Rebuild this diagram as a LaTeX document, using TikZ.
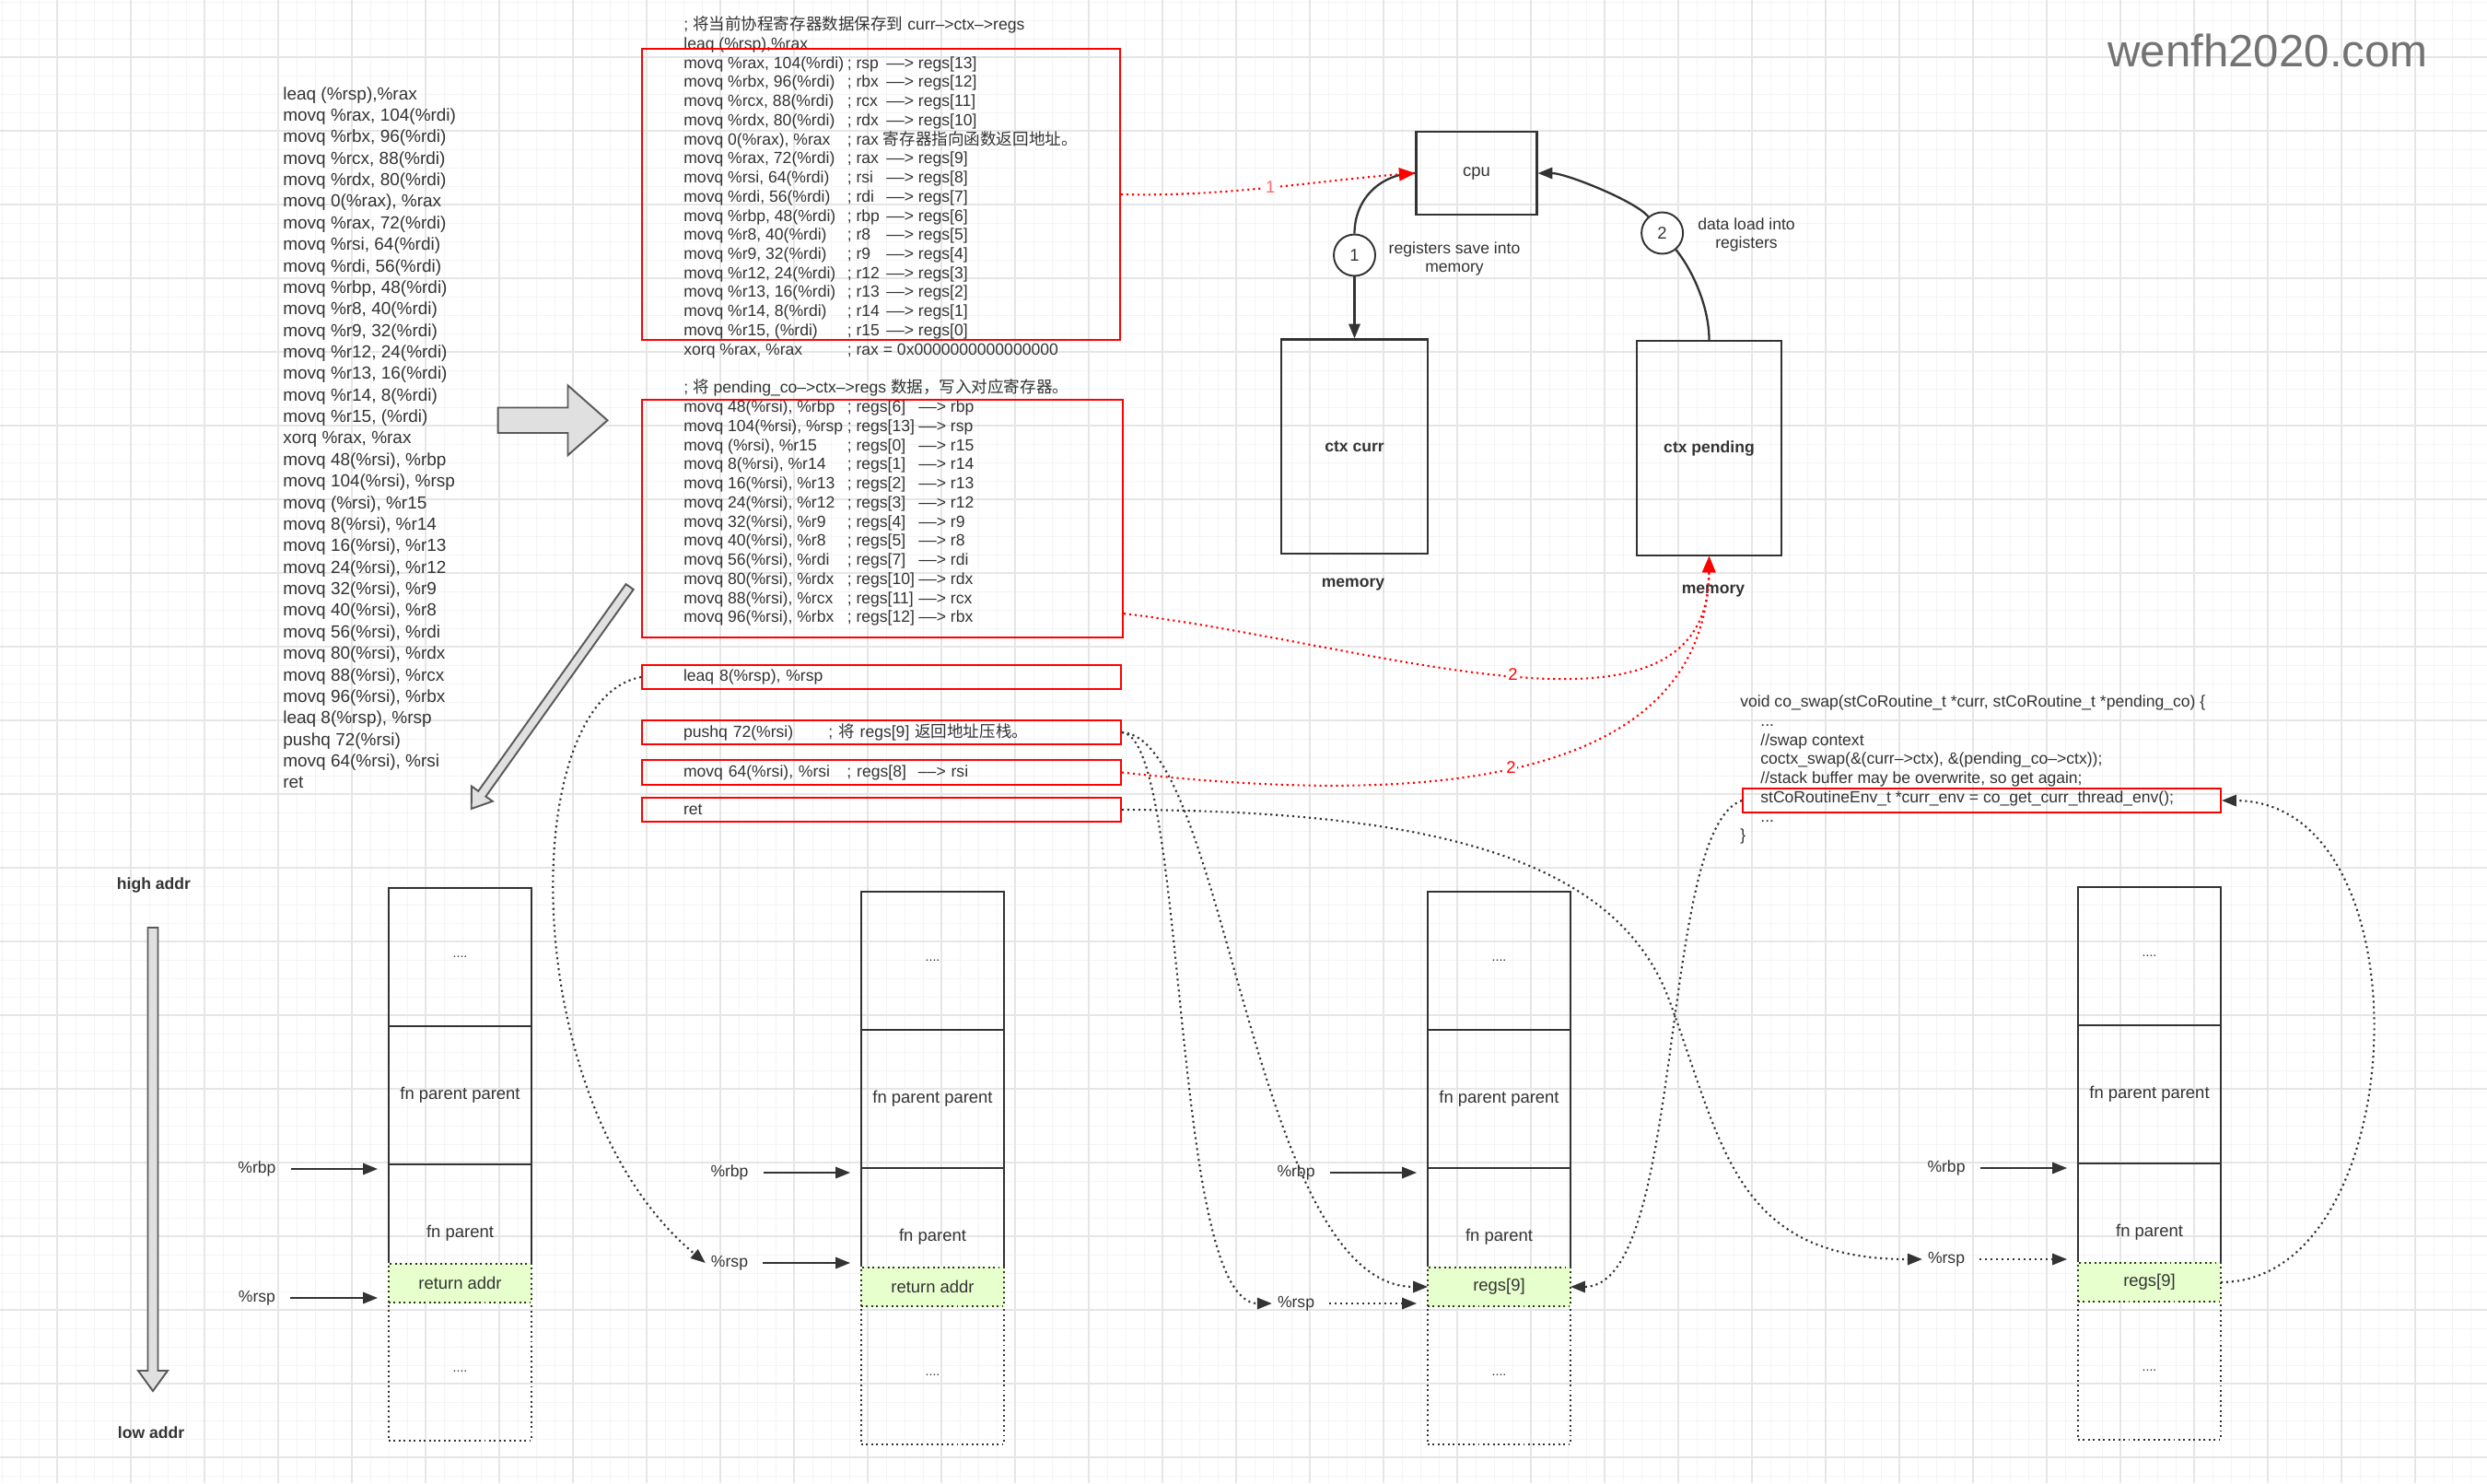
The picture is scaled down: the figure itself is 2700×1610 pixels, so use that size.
\documentclass[tikz,border=0pt]{standalone}
\usepackage{fontspec}
\setmainfont{Liberation Sans}
\newfontfamily\cjk{Noto Sans CJK SC}
\usetikzlibrary{arrows.meta, positioning, calc}

\definecolor{ink}{HTML}{333333}
\definecolor{markred}{HTML}{FF0000}
\definecolor{lightred}{HTML}{FF6666}
\definecolor{cellgreen}{HTML}{E6FFCC}
\definecolor{gridminor}{HTML}{F4F4F4}
\definecolor{gridmajor}{HTML}{E6E6E6}

\newcommand{\regto}{\mbox{--}\mbox{--}>}
\newcommand{\ptrto}{\mbox{--}>}
\newcommand{\asmop}[1]{\makebox[3.55cm][l]{#1}}
\newcommand{\asmnote}[1]{\makebox[0.85cm][l]{#1}}
\newcommand{\asmslot}[1]{\makebox[1.55cm][l]{#1}}

\begin{document}
\begin{tikzpicture}[
			x=0.02cm, y=-0.02cm,
			code/.style={anchor=north west, inner sep=0pt, align=left, text=ink, font=\fontsize{10}{11.8}\selectfont},
			asmlist/.style={code, font=\fontsize{10.8}{13.3}\selectfont},
			redbox/.style={rectangle, draw=markred, line width=1.2pt, inner sep=0pt},
			codebox/.style={redbox, minimum width=10.4cm, minimum height=0.53cm, inner xsep=0.9cm, text width=8.6cm, align=left, text=ink, font=\fontsize{10}{11.8}\selectfont},
			memblock/.style={rectangle, draw=ink, line width=1.2pt, text=ink, font=\fontsize{10.5}{12}\selectfont},
			numcircle/.style={circle, draw=ink, line width=1.1pt, fill=white, minimum size=0.9cm, inner sep=0pt, text=ink, font=\fontsize{10.5}{12}\selectfont},
			tag/.style={text=ink, align=center, font=\fontsize{10}{11.8}\selectfont},
			boldtag/.style={tag, font=\fontsize{10}{11.8}\selectfont\bfseries},
			cell/.style={rectangle, draw=ink, line width=1.1pt, outer sep=0pt, minimum width=3.1cm, minimum height=3cm, text=ink, font=\fontsize{10.5}{12}\selectfont},
			greencell/.style={cell, fill=cellgreen, dash pattern=on 1.1pt off 2pt, minimum height=0.84cm, preaction={draw=cellgreen, solid, line width=1.1pt}},
			opencell/.style={cell, dash pattern=on 1.1pt off 2pt},
			dots/.style={font=\fontsize{8}{9}\selectfont},
			flow/.style={draw=ink, line width=1.3pt},
			ptr/.style={draw=ink, line width=1.1pt, -{Triangle[length=9pt, width=7pt]}, shorten <=0.2cm, shorten >=0.24cm},
			jump/.style={draw=ink, line width=1.2pt, dash pattern=on 1.2pt off 2.2pt, -{Triangle[length=9pt, width=7pt]}},
			load/.style={jump, draw=markred, -{Triangle[length=10pt, width=8pt]}},
			hollow/.style={draw=black!65, line width=1.1pt, fill=black!12, line join=miter},
			steplabel/.style={fill=white, inner sep=1pt, font=\fontsize{10.5}{12}\selectfont}
			]
			
			\useasboundingbox (0,0) rectangle (2700,1610);
			\fill[white] (0,0) rectangle (2700,1610);
			\foreach \g in {2,22,...,2700} \draw[gridminor, line width=0.5pt] (\g,0) -- (\g,1610);
			\foreach \g in {2,22,...,1610} \draw[gridminor, line width=0.5pt] (0,\g) -- (2700,\g);
			\foreach \g in {62,142,...,2700} \draw[gridmajor, line width=0.8pt] (\g,0) -- (\g,1610);
			\foreach \g in {62,142,...,1610} \draw[gridmajor, line width=0.8pt] (0,\g) -- (2700,\g);
			
			\node[text=black!55, font=\fontsize{28}{32}\selectfont] (site) at (2462,55) {wenfh2020.com};
			
			\node[asmlist] (asm) at (307,94) {leaq (\%rsp),\%rax\\ movq \%rax, 104(\%rdi)\\ movq \%rbx, 96(\%rdi)\\ movq \%rcx, 88(\%rdi)\\ movq \%rdx, 80(\%rdi)\\ movq 0(\%rax), \%rax\\ movq \%rax, 72(\%rdi)\\ movq \%rsi, 64(\%rdi)\\ movq \%rdi, 56(\%rdi)\\ movq \%rbp, 48(\%rdi)\\ movq \%r8, 40(\%rdi)\\ movq \%r9, 32(\%rdi)\\ movq \%r12, 24(\%rdi)\\ movq \%r13, 16(\%rdi)\\ movq \%r14, 8(\%rdi)\\ movq \%r15, (\%rdi)\\ xorq \%rax, \%rax\\ movq 48(\%rsi), \%rbp\\ movq 104(\%rsi), \%rsp\\ movq (\%rsi), \%r15\\ movq 8(\%rsi), \%r14\\ movq 16(\%rsi), \%r13\\ movq 24(\%rsi), \%r12\\ movq 32(\%rsi), \%r9\\ movq 40(\%rsi), \%r8\\ movq 56(\%rsi), \%rdi\\ movq 80(\%rsi), \%rdx\\ movq 88(\%rsi), \%rcx\\ movq 96(\%rsi), \%rbx\\ leaq 8(\%rsp), \%rsp\\ pushq 72(\%rsi)\\ movq 64(\%rsi), \%rsi\\ ret};
			
			\node[code] (savecode) at (742,17.5) {; {\cjk 将当前协程寄存器数据保存到} curr\ptrto ctx\ptrto regs\\
				leaq (\%rsp),\%rax\\
				\asmop{movq \%rax, 104(\%rdi)}\asmnote{; rsp}\regto{} regs[13]\\
				\asmop{movq \%rbx, 96(\%rdi)}\asmnote{; rbx}\regto{} regs[12]\\
				\asmop{movq \%rcx, 88(\%rdi)}\asmnote{; rcx}\regto{} regs[11]\\
				\asmop{movq \%rdx, 80(\%rdi)}\asmnote{; rdx}\regto{} regs[10]\\
				\asmop{movq 0(\%rax), \%rax}; rax {\cjk 寄存器指向函数返回地址。}\\
				\asmop{movq \%rax, 72(\%rdi)}\asmnote{; rax}\regto{} regs[9]\\
				\asmop{movq \%rsi, 64(\%rdi)}\asmnote{; rsi}\regto{} regs[8]\\
				\asmop{movq \%rdi, 56(\%rdi)}\asmnote{; rdi}\regto{} regs[7]\\
				\asmop{movq \%rbp, 48(\%rdi)}\asmnote{; rbp}\regto{} regs[6]\\
				\asmop{movq \%r8, 40(\%rdi)}\asmnote{; r8}\regto{} regs[5]\\
				\asmop{movq \%r9, 32(\%rdi)}\asmnote{; r9}\regto{} regs[4]\\
				\asmop{movq \%r12, 24(\%rdi)}\asmnote{; r12}\regto{} regs[3]\\
				\asmop{movq \%r13, 16(\%rdi)}\asmnote{; r13}\regto{} regs[2]\\
				\asmop{movq \%r14, 8(\%rdi)}\asmnote{; r14}\regto{} regs[1]\\
				\asmop{movq \%r15, (\%rdi)}\asmnote{; r15}\regto{} regs[0]\\
				\asmop{xorq \%rax, \%rax}; rax = 0x0000000000000000};
			
			\node[code] (loadcode) at (742,411.7) {; {\cjk 将} pending\_co\ptrto ctx\ptrto regs {\cjk 数据，写入对应寄存器。}\\
				\asmop{movq 48(\%rsi), \%rbp}\asmslot{; regs[6]}\regto{} rbp\\
				\asmop{movq 104(\%rsi), \%rsp}\asmslot{; regs[13]}\regto{} rsp\\
				\asmop{movq (\%rsi), \%r15}\asmslot{; regs[0]}\regto{} r15\\
				\asmop{movq 8(\%rsi), \%r14}\asmslot{; regs[1]}\regto{} r14\\
				\asmop{movq 16(\%rsi), \%r13}\asmslot{; regs[2]}\regto{} r13\\
				\asmop{movq 24(\%rsi), \%r12}\asmslot{; regs[3]}\regto{} r12\\
				\asmop{movq 32(\%rsi), \%r9}\asmslot{; regs[4]}\regto{} r9\\
				\asmop{movq 40(\%rsi), \%r8}\asmslot{; regs[5]}\regto{} r8\\
				\asmop{movq 56(\%rsi), \%rdi}\asmslot{; regs[7]}\regto{} rdi\\
				\asmop{movq 80(\%rsi), \%rdx}\asmslot{; regs[10]}\regto{} rdx\\
				\asmop{movq 88(\%rsi), \%rcx}\asmslot{; regs[11]}\regto{} rcx\\
				\asmop{movq 96(\%rsi), \%rbx}\asmslot{; regs[12]}\regto{} rbx};
			
			\node[redbox, minimum width=10.38cm, minimum height=6.32cm] (savebox) at (956.5,211) {};
			\node[redbox, minimum width=10.44cm, minimum height=5.16cm] (loadbox) at (958,563) {};
			\node[codebox] (ld) at (957,735) {leaq 8(\%rsp), \%rsp};
			\node[codebox] (push) at (957,795) {\makebox[3.15cm][l]{pushq 72(\%rsi)}; {\cjk 将} regs[9] {\cjk 返回地址压栈。}};
			\node[codebox] (mvsi) at (957,838.5) {\asmop{movq 64(\%rsi), \%rsi}\asmslot{; regs[8]}\regto{} rsi};
			\node[codebox] (ret) at (957,879) {ret};
			
			\draw[hollow] (540.7,442.5) -- (616.5,442.5) -- (616.5,418.4) -- (659.5,456.3) -- (616.5,494.2) -- (616.5,470) -- (540.7,470) -- cycle;
			\begin{scope}[shift={(683.6,637)}, rotate=234.5]
				\draw[hollow] (0,-5) -- (276,-5) -- (276,-14) -- (296,0) -- (276,14) -- (276,5) -- (0,5) -- cycle;
			\end{scope}
			
			\node[memblock, minimum width=2.62cm, minimum height=1.79cm] (cpu) at (1603,188) {cpu};
			\node[memblock, minimum width=3.17cm, minimum height=4.65cm, font=\fontsize{10}{12}\selectfont\bfseries] (ctxcurr) at (1470.5,484.7) {ctx curr};
			\node[memblock, minimum width=3.13cm, minimum height=4.65cm, font=\fontsize{10}{12}\selectfont\bfseries] (pending) at (1855.5,486.5) {ctx pending};
			\node[boldtag] (memcurr) at (1469,635) {memory};
			\node[boldtag] (mempend) at (1860,642) {memory};
			\node[numcircle] (one) at (1470.5,277) {1};
			\node[numcircle] (two) at (1804.6,253) {2};
			\node[tag] (savenote) at (1579,281) {registers save into\\memory};
			\node[tag] (loadnote) at (1896,255) {data load into\\registers};
			
			\draw[flow] (cpu.west) .. controls (1500,188) and (1470.5,215) .. (one);
			\draw[flow, -{Triangle[length=9pt, width=7pt]}] (one) -- (ctxcurr);
			\draw[flow] (pending.north) .. controls (1855.5,330) and (1835,290) .. (two);
			\draw[flow, -{Triangle[length=9pt, width=7pt]}] (two) .. controls (1775,218) and (1700,188) .. (cpu.east);
			
			\node[code] (coswap) at (1889,754.7) {void co\_swap(stCoRoutine\_t *curr, stCoRoutine\_t *pending\_co) \{\\
				\hspace*{0.44cm}...\\
				\hspace*{0.44cm}//swap context\\
				\hspace*{0.44cm}coctx\_swap(\&(curr\ptrto ctx), \&(pending\_co\ptrto ctx));\\
				\hspace*{0.44cm}//stack buffer may be overwrite, so get again;\\
				\hspace*{0.44cm}stCoRoutineEnv\_t *curr\_env = co\_get\_curr\_thread\_env();\\
				\hspace*{0.44cm}...\\
				\}};
			\node[redbox, minimum width=10.38cm, minimum height=0.52cm] (envbox) at (2151.5,869) {};
			
			\node[boldtag] (high) at (167,961) {high addr};
			\node[boldtag] (low) at (164,1555) {low addr};
			\draw[hollow] (160.5,1007) -- (171.5,1007) -- (171.5,1488) -- (182,1488) -- (166,1510) -- (150,1488) -- (160.5,1488) -- cycle;
			
			\node[cell, dots] (a1) at (499.5,1039) {....};
			\node[cell] (a2) [below=0pt of a1] {fn parent parent};
			\node[cell] (a3) [below=0pt of a2] {fn parent};
			\node[opencell, dots] (a5) [below=0pt of a3] {....};
			\node[greencell] (a4) [above=0pt of a5] {return addr};
			
			\node[cell, dots] (b1) at (1012.5,1043) {....};
			\node[cell] (b2) [below=0pt of b1] {fn parent parent};
			\node[cell] (b3) [below=0pt of b2] {fn parent};
			\node[opencell, dots] (b5) [below=0pt of b3] {....};
			\node[greencell] (b4) [above=0pt of b5] {return addr};
			
			\node[cell, dots] (c1) at (1627.5,1043) {....};
			\node[cell] (c2) [below=0pt of c1] {fn parent parent};
			\node[cell] (c3) [below=0pt of c2] {fn parent};
			\node[opencell, dots] (c5) [below=0pt of c3] {....};
			\node[greencell] (c4) [above=0pt of c5] {regs[9]};
			
			\node[cell, dots] (d1) at (2333.5,1038) {....};
			\node[cell] (d2) [below=0pt of d1] {fn parent parent};
			\node[cell] (d3) [below=0pt of d2] {fn parent};
			\node[opencell, dots] (d5) [below=0pt of d3] {....};
			\node[greencell] (d4) [above=0pt of d5] {regs[9]};
			
			\node[tag] (rbpa) at (279,1269) {\%rbp};
			\node[tag] (rspa) at (279,1409) {\%rsp};
			\node[tag] (rbpb) at (792,1273) {\%rbp};
			\node[tag] (rspb) at (792,1371) {\%rsp};
			\node[tag] (rbpc) at (1407,1273) {\%rbp};
			\node[tag] (rspc) at (1407,1415) {\%rsp};
			\node[tag] (rbpd) at (2113,1268) {\%rbp};
			\node[tag] (rspd) at (2113,1367) {\%rsp};
			
			\draw[ptr] (rbpa) -- (rbpa -| a3.west);
			\draw[ptr] (rspa) -- (rspa -| a5.west);
			\draw[ptr] (rbpb) -- (rbpb -| b3.west);
			\draw[ptr] (rspb) -- (rspb -| b5.west);
			\draw[ptr] (rbpc) -- (rbpc -| c3.west);
			\draw[ptr, dash pattern=on 1.2pt off 2.2pt] (rspc) -- (rspc -| c5.west);
			\draw[ptr] (rbpd) -- (rbpd -| d3.west);
			\draw[ptr, dash pattern=on 1.2pt off 2.2pt] (rspd) -- (rspd -| d5.west);
			
			\draw[load] (savebox.east) .. controls (1330,214) and (1430,196) .. (cpu.west) node[pos=0.5, steplabel, text=lightred] {1};
			\draw[load] ($(loadbox.south east)+(0,-27)$) .. controls (1500,700) and (1855,830) .. (pending.south) node[pos=0.5, steplabel, text=markred] {2};
			\draw[load] (mvsi.east) .. controls (1500,870) and (1850,870) .. (pending.south) node[pos=0.5, steplabel, text=markred] {2};
			
			\draw[jump] (ld.west) .. controls (560,760) and (560,1200) .. (rspb.west);
			\draw[jump] (push.east) .. controls (1290,800) and (1270,1415) .. (rspc.west);
			\draw[jump] (push.east) .. controls (1330,800) and (1360,1397) .. (c4.west);
			\draw[jump] (ret.east) .. controls (1550,880) and (1750,930) .. (1810,1080) .. controls (1870,1240) and (1880,1367) .. (rspd.west);
			\draw[jump] (d4.east) .. controls (2620,1392) and (2640,870) .. (envbox.east);
			\draw[jump] (envbox.west) .. controls (1800,900) and (1830,1397) .. (c4.east);
		\end{tikzpicture}
\end{document}
